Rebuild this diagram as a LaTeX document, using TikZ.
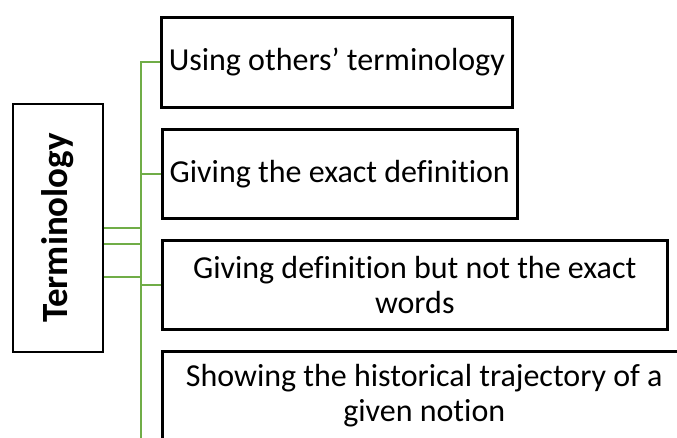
\documentclass[tikz,border=0pt]{standalone}
\usepackage{fontspec}
\setmainfont{Carlito}[Ligatures=NoCommon]
\usetikzlibrary{positioning}
\definecolor{branchgreen}{HTML}{70AD47}

\tikzset{
  leaf/.style={draw, line width=2.5pt, anchor=north west, minimum height=89pt,
    inner sep=0pt, align=center, font=\fontsize{32}{35}\selectfont},
  branch/.style={draw=branchgreen, line width=2.2pt},
}

\begin{document}
\begin{tikzpicture}[x=1pt, y=-1pt]
    \useasboundingbox (0,0) rectangle (677,437);
    \clip (0,0) rectangle (677,437);
    % root
    \node[draw, line width=2.5pt, minimum width=248pt, minimum height=90pt, rotate=90,
      font=\bfseries\fontsize{37}{40}\selectfont] (term) at (58,228) {Terminology};
    % leaves
    \node[leaf, minimum width=351pt, minimum height=90pt] (u1) at (160,16) {Using others’ terminology};
    \node[leaf, minimum width=355pt] (u2) at (161,128) {Giving the exact definition};
    \node[leaf, minimum width=505pt] (u3) at (161,239) {Giving definition but not the exact\\words};
    \node[leaf, minimum width=524pt] (u4) at (161,350) {Showing the historical trajectory of a\\given notion};
    % trunk
    \coordinate (bot) at (141,440);
    \coordinate (j2) at (141,244);
    \coordinate (j3) at (141,277);
    \draw[branch] (u1.west) -| (bot);
    \draw[branch] (u2.west) -- (u2.west -| bot);
    \draw[branch] (u3.west) -- (u3.west -| bot);
    \draw[branch] (term.south) -- (term.south -| bot);
    \draw[branch] (term.south |- j2) -- (j2);
    \draw[branch] (term.south |- j3) -- (j3);
\end{tikzpicture}
\end{document}
